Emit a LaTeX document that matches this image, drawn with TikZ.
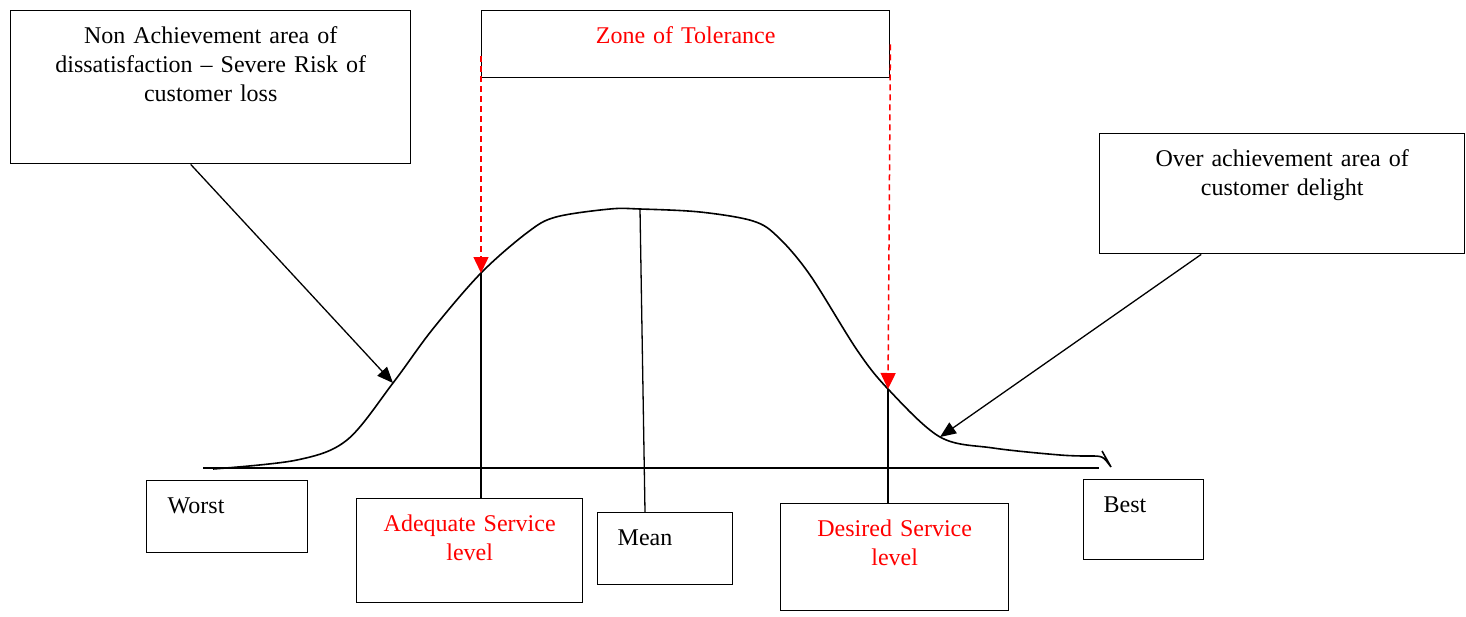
\documentclass[tikz,border=0pt]{standalone}
\usepackage{xcolor}
\usepackage{fontspec}
\setmainfont{Liberation Serif}
\usepackage{tikz}
\usetikzlibrary{arrows.meta, positioning}
\definecolor{zonered}{RGB}{255,0,0}
\definecolor{inkdark}{RGB}{0,0,0}
\tikzset{
  box/.style={rectangle, draw=inkdark, line width=1.4pt, inner sep=0pt,
    anchor=north west, text height=33pt, align=center},
  leftbox/.style={box, align=left},
  redbox/.style={box, text=zonered},
  arrow/.style={-{Triangle[length=16pt, width=13pt]}, line width=1.3pt, color=inkdark},
  redarrow/.style={-{Triangle[length=16pt, width=15pt]}, line width=1.5pt, color=zonered,
    dash pattern=on 6pt off 4pt},
  line/.style={line width=1.3pt, color=inkdark},
  curve/.style={line width=1.6pt, color=inkdark}
}

\begin{document}
\begin{tikzpicture}[x=1pt, y=-1pt, font=\fontsize{24}{29}\selectfont]
  \useasboundingbox (0,0) rectangle (1466,616);

  % Description boxes at the top
  \node[box, text width=380pt, minimum width=400pt, text depth=120pt] (loss) at (10,10)
    {Non Achievement area of\\ dissatisfaction -- Severe Risk of\\ customer loss};
  \node[redbox, text width=388pt, minimum width=408pt, text depth=34pt] (zone) at (481,10)
    {Zone of Tolerance};
  \node[box, text width=345pt, minimum width=365pt, text depth=87pt] (delight) at (1099,133)
    {Over achievement area of\\ customer delight};

  % Boxes under the axis
  \node[leftbox, text width=119pt, minimum width=161pt, text depth=39pt] (worst) at (146,480) {Worst};
  \node[redbox, text width=206pt, minimum width=226pt, text depth=71pt] (adequate) at (356,498)
    {Adequate Service\\ level};
  \node[leftbox, text width=95pt, minimum width=135pt, text depth=39pt] (mean) at (597,512) {Mean};
  \node[redbox, text width=208pt, minimum width=228pt, text depth=74pt] (desired) at (780,503)
    {Desired Service\\ level};
  \node[leftbox, text width=80pt, minimum width=120pt, text depth=47pt] (best) at (1083,479) {Best};

  % Points on the curve
  \coordinate (adqpt) at (481,273);
  \coordinate (meanpt) at (640,209);
  \coordinate (despt) at (888,389);
  \coordinate (losspt) at (393,383);
  \coordinate (delightpt) at (940,437);
  \coordinate (meanfoot) at (645,512);
  \coordinate (axisL) at (203,468);
  \coordinate (axisR) at (1099,468);

  % Axis
  \draw[line] (axisL) -- (axisR);

  % Service curve
  \draw[curve] plot[smooth, tension=0.55] coordinates {
    (213,469) (297,460) (347,440) (393,383) (432,330) (481,273) (528,232) (556,217)
    (610,209) (640,209) (700,212) (753,221) (778,237) (810,275) (857,350) (888,389)
    (940,437) (993,448) (1060,455) (1090,456)};
  \draw[curve] (1090,456) .. controls (1103,456) .. (1111,467) -- (1102,451);

  % Level lines down to the boxes
  \draw[line] (adqpt) -- (adqpt |- adequate.north);
  \draw[line] (meanpt) -- (meanfoot);
  \draw[line] (despt) -- (despt |- desired.north);

  % Zone of tolerance limits
  \draw[redarrow] ([yshift=22pt]zone.south west) -- (adqpt);
  \draw[redarrow] ([yshift=34pt]zone.south east) -- (despt);

  % Pointers from the description boxes
  \draw[arrow] ([xshift=-20pt]loss.south) -- (losspt);
  \draw[arrow] ([xshift=-81pt]delight.south) -- (delightpt);
\end{tikzpicture}
\end{document}
